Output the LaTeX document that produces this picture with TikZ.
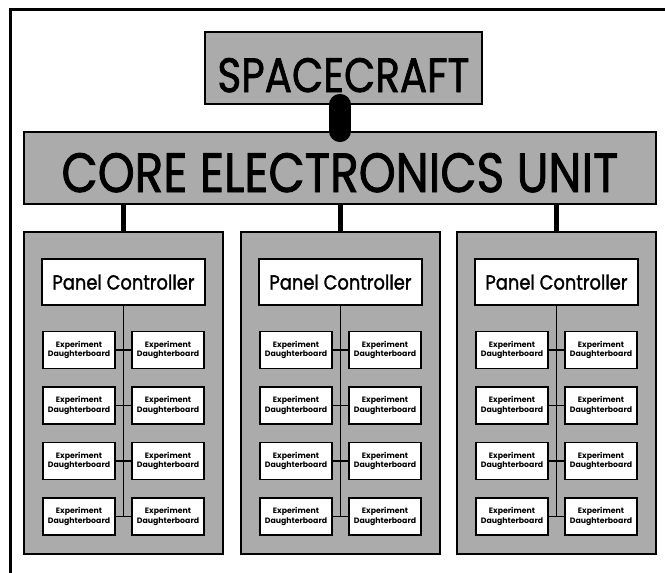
\documentclass[tikz,border=0pt]{standalone}
\usepackage{fontspec}
\setmainfont{Poppins}
\newfontfamily\popthick{Poppins}[FakeBold=1.6]
\usetikzlibrary{calc}
\begin{document}
\begin{tikzpicture}[x=1pt,y=-1pt,
  shaded/.style={draw=black, line width=1.8pt, fill=black!33, inner sep=0pt},
  bigbox/.style={shaded, minimum height=72, text height=48, text depth=0, font=\popthick},
  panel/.style={shaded, minimum width=199, minimum height=322},
  pcbox/.style={draw=black, line width=1.8pt, fill=white, minimum width=163, minimum height=46, inner sep=0pt, text height=15, text depth=0, font=\popthick},
  dbbox/.style={draw=black, line width=1.8pt, fill=white, minimum width=72, minimum height=37, inner sep=0pt, align=center, font=\bfseries\fontsize{7.8}{9.5}\selectfont},
  bus/.style={line width=1.2pt},
  link/.style={line width=5pt},
  frame/.style={line width=3pt}]
\useasboundingbox (0,0) rectangle (665,573);
\draw[frame] (665,9) -- (10,9) -- (10,573);
\node[bigbox, minimum width=277] (sc) at (343.5,68) {\resizebox{252pt}{34pt}{SPACECRAFT}};
\node[bigbox, minimum width=632] (core) at (340,168) {\resizebox{557pt}{39pt}{CORE ELECTRONICS UNIT}};
\foreach \i/\cx in {1/123.5,2/340.5,3/556.5} {
  \node[panel] (p\i) at (\cx,393) {};
  \draw[link] (core.south -| p\i.north) -- (p\i.north);
  \node[pcbox] (pc\i) at (\cx,282) {\resizebox{142pt}{15pt}{Panel Controller}};
  \foreach \r/\ry in {1/350,2/405.5,3/461,4/516.5} {
    \node[dbbox] (l\i\r) at (\cx-44.5,\ry) {Experiment\\Daughterboard};
    \node[dbbox] (r\i\r) at (\cx+44.5,\ry) {Experiment\\Daughterboard};
    \draw[bus] (l\i\r.east) -- (r\i\r.west);
  }
  \draw[bus] (pc\i.south) -- (pc\i.south |- l\i4.east);
}
\draw[line width=22pt, line cap=round] (sc.south -| core.north) -- (core.north);
\end{tikzpicture}
\end{document}
